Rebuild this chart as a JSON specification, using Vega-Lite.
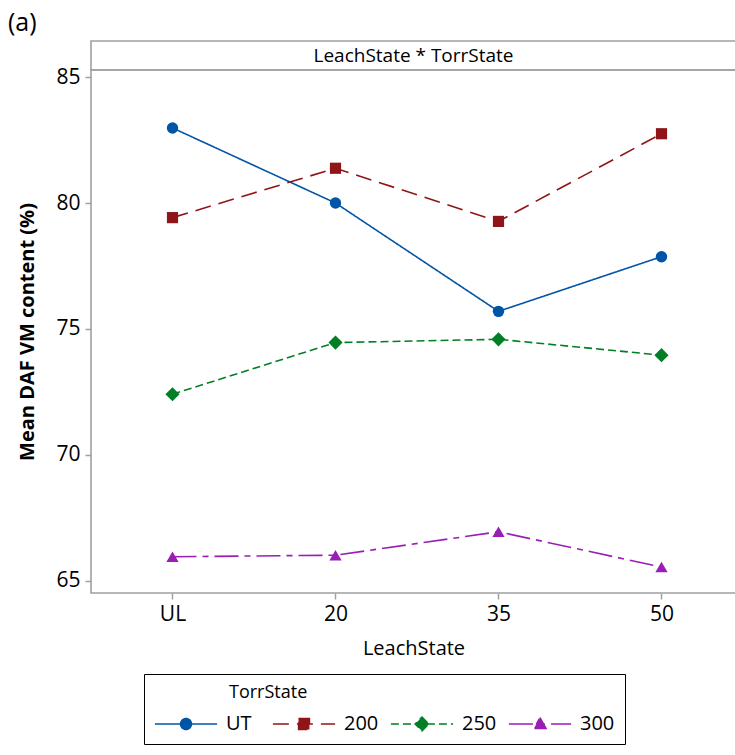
{
  "$schema": "https://vega.github.io/schema/vega-lite/v6.json",
  "autosize": {"type": "pad"},
  "padding": {"left": 8, "top": 11, "right": 0, "bottom": 0},
  "bounds": "flush",
  "spacing": 0,
  "background": "white",
  "resolve": {"scale": {"x": "independent", "y": "independent"}},
  "title": {"text": "(a)", "anchor": "start", "frame": "group", "fontSize": 25, "fontWeight": "normal", "font": "Open Sans", "color": "black", "dx": -83, "offset": 4},
  "config": {
    "font": "Open Sans",
    "view": {"stroke": "#a0a0a0", "strokeWidth": 1.6},
    "axis": {"grid": false, "domain": false, "tickColor": "#a0a0a0", "tickSize": 6, "tickWidth": 1.5, "labelColor": "black", "labelFontSize": 21, "labelFont": "Open Sans", "titleFont": "Open Sans", "titleColor": "black"}
  },
  "datasets": {
    "header": [{"label": "LeachState * TorrState"}],
    "means": [
      {"LeachState": "UL", "TorrState": "UT", "VM": 82.98},
      {"LeachState": "20", "TorrState": "UT", "VM": 80.0},
      {"LeachState": "35", "TorrState": "UT", "VM": 75.7},
      {"LeachState": "50", "TorrState": "UT", "VM": 77.87},
      {"LeachState": "UL", "TorrState": "200", "VM": 79.42},
      {"LeachState": "20", "TorrState": "200", "VM": 81.38},
      {"LeachState": "35", "TorrState": "200", "VM": 79.27},
      {"LeachState": "50", "TorrState": "200", "VM": 82.75},
      {"LeachState": "UL", "TorrState": "250", "VM": 72.41},
      {"LeachState": "20", "TorrState": "250", "VM": 74.46},
      {"LeachState": "35", "TorrState": "250", "VM": 74.59},
      {"LeachState": "50", "TorrState": "250", "VM": 73.96},
      {"LeachState": "UL", "TorrState": "300", "VM": 65.96},
      {"LeachState": "20", "TorrState": "300", "VM": 66.02},
      {"LeachState": "35", "TorrState": "300", "VM": 66.95},
      {"LeachState": "50", "TorrState": "300", "VM": 65.55}
    ]
  },
  "vconcat": [
    {
      "width": 645,
      "height": 29,
      "view": {"stroke": "#a0a0a0", "strokeWidth": 1.6},
      "data": {"name": "header"},
      "mark": {"type": "text", "fontSize": 19, "font": "Open Sans", "color": "black"},
      "encoding": {
        "text": {"field": "label", "type": "nominal"},
        "x": {"datum": 0, "type": "quantitative", "scale": {"domain": [-1, 1]}, "axis": null},
        "y": {"datum": 0, "type": "quantitative", "scale": {"domain": [-1, 1]}, "axis": null}
      }
    },
    {
      "width": 645,
      "height": 523,
      "data": {"name": "means"},
      "encoding": {
        "x": {"field": "LeachState", "type": "ordinal", "sort": ["UL", "20", "35", "50"],
              "scale": {"type": "point", "padding": 0.4785, "align": 0.5224},
              "axis": {"title": "LeachState", "labelAngle": 0, "labelPadding": 4, "titlePadding": 14, "titleFontSize": 20, "titleFontWeight": "normal"}},
        "y": {"field": "VM", "type": "quantitative",
              "scale": {"domain": [64.52, 85.28], "nice": false, "zero": false},
              "axis": {"title": "Mean DAF VM content (%)", "values": [65, 70, 75, 80, 85], "labelPadding": 5, "titlePadding": 18, "titleFontSize": 20, "titleFontWeight": "bold"}},
        "color": {"field": "TorrState", "type": "nominal", "sort": ["UT", "200", "250", "300"],
                  "scale": {"domain": ["UT", "200", "250", "300"], "range": ["#0055A6", "#8F1518", "#007F24", "#9A1DB6"]},
                  "legend": {
                    "title": "TorrState", "orient": "none", "legendX": 53, "legendY": 633, "direction": "horizontal",
                    "strokeColor": "black", "padding": 10,
                    "titleFontSize": 18, "titleFontWeight": "normal", "titleColor": "black", "titlePadding": 0,
                    "labelFontSize": 20, "labelColor": "black", "labelOffset": 18,
                    "symbolSize": 1764, "symbolOffset": 10, "symbolStrokeWidth": 1.5,
                    "gridAlign": "all", "columnPadding": 8,
                    "encode": {
                      "title": {"update": {"dx": {"value": 75}}},
                      "symbols": {"update": {
                        "shape": {"signal": "datum.value === 'UT' ? 'M-1.48,0L1.48,0M-0.26,0A0.26,0.26,0,1,0,0.26,0A0.26,0.26,0,1,0,-0.26,0Z' : datum.value === '200' ? 'M-1.48,0L1.48,0M-0.26,-0.26L0.26,-0.26L0.26,0.26L-0.26,0.26Z' : datum.value === '250' ? 'M-1.48,0L1.48,0M0,-0.33L0.33,0L0,0.33L-0.33,0Z' : 'M-1.48,0L1.48,0M0,-0.31L0.29,0.22L-0.29,0.22Z'"},
                        "fill": {"signal": "scale('color', datum.value)"},
                        "stroke": {"signal": "scale('color', datum.value)"},
                        "strokeWidth": {"value": 1.5},
                        "strokeDash": {"signal": "datum.value === 'UT' ? [1, 0] : datum.value === '200' ? [12, 7] : datum.value === '250' ? [7, 4] : [22, 6, 5, 6]"},
                        "fillOpacity": {"value": 1},
                        "strokeOpacity": {"value": 1},
                        "opacity": {"value": 1}
                      }}
                    }
                  }}
      },
      "layer": [
        {
          "mark": {"type": "line", "strokeWidth": 1.6},
          "encoding": {
            "strokeDash": {"field": "TorrState", "type": "nominal", "sort": ["UT", "200", "250", "300"],
                           "scale": {"domain": ["UT", "200", "250", "300"], "range": [[1, 0], [16, 8], [8, 4], [24, 6, 6, 6]]},
                           "legend": {
                    "title": "TorrState", "orient": "none", "legendX": 53, "legendY": 633, "direction": "horizontal",
                    "strokeColor": "black", "padding": 10,
                    "titleFontSize": 18, "titleFontWeight": "normal", "titleColor": "black", "titlePadding": 0,
                    "labelFontSize": 20, "labelColor": "black", "labelOffset": 18,
                    "symbolSize": 1764, "symbolOffset": 10, "symbolStrokeWidth": 1.5,
                    "gridAlign": "all", "columnPadding": 8
                  }}
          }
        },
        {
          "transform": [{"filter": "datum.TorrState === 'UT'"}],
          "mark": {"type": "point", "filled": true, "opacity": 1, "shape": "circle", "size": 130}
        },
        {
          "transform": [{"filter": "datum.TorrState === '200'"}],
          "mark": {"type": "point", "filled": true, "opacity": 1, "shape": "square", "size": 125}
        },
        {
          "transform": [{"filter": "datum.TorrState === '250'"}],
          "mark": {"type": "point", "filled": true, "opacity": 1, "shape": "diamond", "size": 200}
        },
        {
          "transform": [{"filter": "datum.TorrState === '300'"}],
          "mark": {"type": "point", "filled": true, "opacity": 1, "shape": "triangle-up", "size": 150}
        }
      ]
    }
  ]
}
